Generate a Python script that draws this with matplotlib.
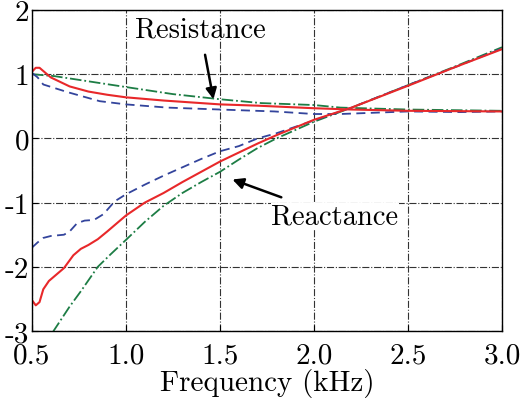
import matplotlib
matplotlib.use("Agg")
import matplotlib.pyplot as plt

plt.rcParams['font.family'] = ['cmr10', 'DejaVu Serif']
plt.rcParams['mathtext.fontset'] = 'cm'
plt.rcParams['axes.unicode_minus'] = False

# resistance curves (kHz, value)
res_red_x = [0.5, 0.52, 0.54, 0.56, 0.6, 0.7, 0.8, 0.9, 1.0, 1.2, 1.4, 1.5, 1.7, 2.0, 2.2, 2.5, 3.0]
res_red_y = [1.04, 1.10, 1.10, 1.05, 0.95, 0.81, 0.73, 0.68, 0.64, 0.59, 0.55, 0.53, 0.51, 0.47, 0.45, 0.43, 0.42]

res_blue_x = [0.5, 0.53, 0.56, 0.69, 0.86, 1.0, 1.22, 1.5, 1.79, 2.0, 2.14, 2.5, 2.78, 3.0]
res_blue_y = [1.02, 0.95, 0.84, 0.72, 0.58, 0.53, 0.48, 0.45, 0.42, 0.38, 0.38, 0.42, 0.41, 0.42]

res_green_x = [0.5, 0.62, 1.0, 1.25, 1.5, 1.72, 2.0, 2.14, 2.5, 3.0]
res_green_y = [1.0, 0.97, 0.80, 0.69, 0.61, 0.55, 0.52, 0.48, 0.45, 0.43]

# reactance curves
rea_red_x = [0.5, 0.52, 0.54, 0.56, 0.59, 0.63, 0.67, 0.72, 0.76, 0.8, 0.85, 0.9, 1.0, 1.1, 1.2,
             1.3, 1.4, 1.5, 1.6, 1.7, 1.8, 1.9, 2.0, 2.2, 2.5, 2.75, 3.0]
rea_red_y = [-2.52, -2.6, -2.55, -2.35, -2.22, -2.12, -2.02, -1.82, -1.72, -1.66, -1.57, -1.45, -1.20,
             -1.0, -0.85, -0.68, -0.52, -0.36, -0.22, -0.08, 0.05, 0.17, 0.29, 0.48, 0.82, 1.11, 1.39]

rea_blue_x = [0.5, 0.53, 0.56, 0.6, 0.67, 0.7, 0.74, 0.78, 0.83, 0.88, 0.94, 1.0, 1.1, 1.2, 1.3,
              1.4, 1.5, 1.6, 1.7, 1.8, 1.9, 2.0, 2.2, 2.5, 2.75, 3.0]
rea_blue_y = [-1.70, -1.62, -1.55, -1.52, -1.50, -1.45, -1.32, -1.28, -1.27, -1.18, -0.98, -0.87,
              -0.72, -0.58, -0.45, -0.32, -0.20, -0.12, 0.0, 0.08, 0.18, 0.28, 0.48, 0.83, 1.11, 1.40]

rea_green_x = [0.61, 0.7, 0.76, 0.85, 0.92, 1.0, 1.1, 1.2, 1.3, 1.4, 1.5, 1.6, 1.7, 1.8, 1.9,
               2.0, 2.2, 2.5, 2.75, 3.0]
rea_green_y = [-3.02, -2.62, -2.38, -2.0, -1.80, -1.58, -1.30, -1.05, -0.85, -0.68, -0.52, -0.33,
               -0.15, 0.0, 0.13, 0.26, 0.48, 0.83, 1.12, 1.42]

xticks = [0.5, 1.0, 1.5, 2.0, 2.5, 3.0]
xtick_labels = ["0.5", "1.0", "1.5", "2.0", "2.5", "3.0"]
yticks = [-3, -2, -1, 0, 1, 2]
ytick_labels = ["-3", "-2", "-1", "0", "1", "2"]

red = '#e8282a'
blue = '#33449c'
green = '#1d7d45'

fig = plt.figure(figsize=(5.22, 4.02), dpi=100)
ax = fig.add_axes([0.0613, 0.1741, 0.9004, 0.7985])

ax.plot(res_green_x, res_green_y, color=green, linestyle='-.', lw=1.3)
ax.plot(res_blue_x, res_blue_y, color=blue, linestyle=(0, (5, 3)), lw=1.3)
ax.plot(res_red_x, res_red_y, color=red, linestyle='-', lw=1.5)
ax.plot(rea_green_x, rea_green_y, color=green, linestyle='-.', lw=1.3)
ax.plot(rea_blue_x, rea_blue_y, color=blue, linestyle=(0, (5, 3)), lw=1.3)
ax.plot(rea_red_x, rea_red_y, color=red, linestyle='-', lw=1.5)

ax.set_xlim(0.5, 3.0)
ax.set_ylim(-3, 2)
ax.set_xticks(xticks)
ax.set_xticklabels(xtick_labels)
ax.set_yticks(yticks)
ax.set_yticklabels(ytick_labels)
ax.tick_params(direction='in', length=4, labelsize=21)
ax.tick_params(axis='x', pad=8)
ax.tick_params(axis='y', pad=2)
ax.grid(True, color='#333333', linestyle='-.', lw=0.8)
ax.set_xlabel("Frequency (kHz)", fontsize=21, labelpad=0)

ax.annotate("Resistance", xy=(1.465, 0.61), xytext=(1.395, 1.70),
            fontsize=20.5, ha='center', va='center',
            arrowprops=dict(arrowstyle='-|>', color='black', lw=1.8, mutation_scale=16,
                            shrinkA=7, shrinkB=0))
ax.annotate("Reactance", xy=(1.566, -0.64), xytext=(2.11, -1.22),
            fontsize=20.5, ha='center', va='center',
            arrowprops=dict(arrowstyle='-|>', color='black', lw=1.8, mutation_scale=16,
                            shrinkA=12, shrinkB=0),
            bbox=dict(facecolor='white', edgecolor='none', pad=0.5))

for s in ax.spines.values():
    s.set_linewidth(1.0)

fig.savefig("out.png", dpi=100)
